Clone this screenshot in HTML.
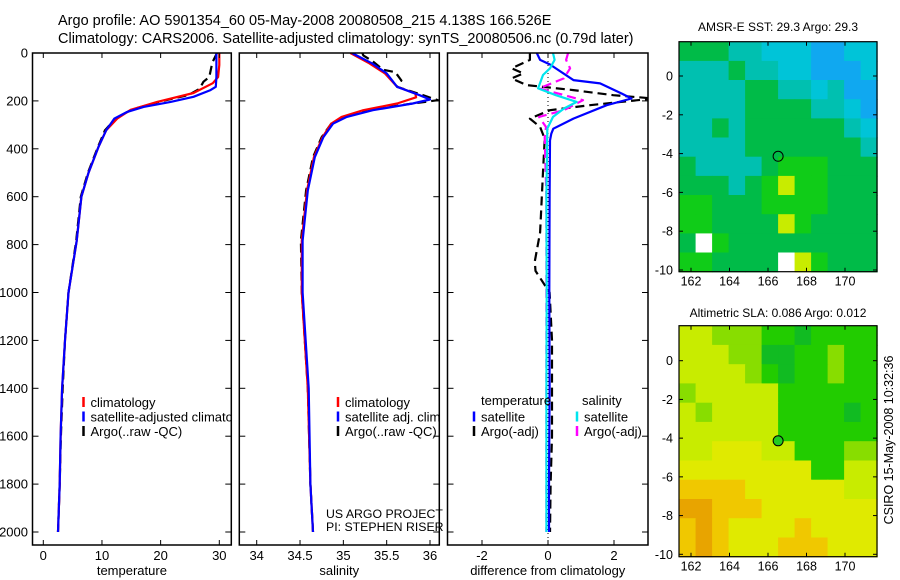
<!DOCTYPE html>
<html><head><meta charset="utf-8"><style>
html,body{margin:0;padding:0;background:#fff;}
svg{display:block;font-family:"Liberation Sans",sans-serif;}
</style></head><body>
<svg id="fig" width="900" height="580" viewBox="0 0 900 580">
<rect width="900" height="580" fill="#fff"/>
<text x="58" y="25" font-size="14.5">Argo profile: AO 5901354_60 05-May-2008 20080508_215 4.138S 166.526E</text>
<text x="58" y="43" font-size="14.5">Climatology: CARS2006. Satellite-adjusted climatology: synTS_20080506.nc (0.79d later)</text>
<g id="layer"></g>
</svg>
<script>
// ---------- data ----------
const depthTicks=[0,200,400,600,800,1000,1200,1400,1600,1800,2000];
const tempTicks=[0,10,20,30];
const salTicks=[34,34.5,35,35.5,36];
const salTickLabels=["34","34.5","35","35.5","36"];
const diffTicks=[-2,0,2];

const tClimD=[0,50,100,126,167,204,237,274,323,393,500,600,784,1000,1200,1400,1600,1800,2000];
const tClimV=[30.0,30.0,29.8,28.9,25.6,19.4,14.9,12.6,10.7,9.4,7.7,6.5,5.7,4.3,3.7,3.2,2.95,2.8,2.5];
const tSatD=[0,50,100,141,155,183,204,225,246,274,323,393,500,600,784,1000,1200,1400,1600,1800,2000];
const tSatV=[29.5,29.5,29.5,29.4,28.5,25.6,21.7,17.1,14.3,12.1,10.7,9.4,7.7,6.5,5.7,4.3,3.7,3.2,2.95,2.8,2.5];
const tArgoD=[0,40,100,120,150,175,204,237,274,323,393,500,600,784,1000,1200,1400,1600,1800,2000];
const tArgoV=[29.6,28.8,28.3,27.3,26.6,24.8,19.6,15.0,12.3,10.5,9.3,7.6,6.4,5.6,4.3,3.7,3.3,3.0,2.8,2.5];

const sClimD=[0,43,85,141,169,185,211,239,267,295,351,435,574,784,1000,1400,1800,2000];
const sClimV=[35.08,35.30,35.48,35.62,35.83,35.84,35.62,35.23,34.98,34.86,34.76,34.66,34.58,34.52,34.52,34.59,34.62,34.65];
const sSatD=[0,43,85,141,176,194,211,239,267,295,351,435,574,784,1000,1400,1800,2000];
const sSatV=[35.10,35.33,35.50,35.62,35.88,36.00,35.80,35.34,35.04,34.88,34.77,34.67,34.59,34.53,34.53,34.60,34.62,34.65];
const sArgoD=[0,10,35,70,80,115,141,176,197,211,239,267,295,351,435,574,784,1000,1400,1800,2000];
const sArgoV=[35.22,35.23,35.34,35.46,35.60,35.67,35.62,35.92,36.09,35.80,35.26,35.00,34.86,34.75,34.65,34.57,34.51,34.52,34.59,34.62,34.65];

const dTSatD=[0,29,48,113,127,169,190,218,274,316,337,365,600,1000,1400,1800,2000];
const dTSatV=[-0.34,-0.24,0.06,0.77,1.58,2.23,2.53,1.78,0.77,0.16,0.10,0.06,0.05,0.04,0.05,0.03,0.03];
const dSSatD=[0,29,64,92,148,176,204,232,267,316,600,1000,1400,1800,2000];
const dSSatV=[0.15,0.20,0.06,-0.15,-0.30,0.24,0.87,0.48,0.15,-0.02,-0.05,-0.04,-0.05,-0.05,-0.05];
const dSArgoD=[0,29,64,106,148,197,239,267,309,351,600,1000,1400,1800,2000];
const dSArgoV=[0.61,0.55,0.67,0.48,-0.27,1.06,0.48,-0.27,-0.06,-0.10,-0.05,-0.05,-0.05,-0.05,-0.05];
const dTArgoD=[0,29,64,85,106,134,155,176,190,218,239,274,309,358,497,637,749,870,910,1000,1200,1600,1800,2000];
const dTArgoV=[-0.55,-0.55,-1.10,-0.75,-1.10,-0.65,0.77,1.98,3.2,1.27,0.06,-0.55,-0.24,-0.10,-0.15,-0.20,-0.24,-0.40,-0.38,0.05,0.12,0.12,0.08,0.06];

const lonTicks=[162,164,166,168,170];
const latTicks=[0,-2,-4,-6,-8,-10];
const sstPalette={B:"#10a8f0",b:"#00c4d8",c:"#00c0b0",g:"#00bb48",G:"#10cc18",y:"#c8ec00",W:"#ffffff"};
const sstGrid=[
"gggccbbbBBbb",
"cccgccbbBBBb",
"ccccggccbcBB",
"ccccggggccbB",
"ccgcggggggcb",
"ccccgggggggc",
"gccccgGGGggg",
"gggcgGyGGggg",
"GGgggGGGGggg",
"GGggggyGgggg",
"gWGggggggggg",
"GGggggWyGggg"];
const slaPalette={y:"#c8ec00",l:"#88dd00",g:"#22cc00",G:"#11bb22",Y:"#e0ea00",o:"#f0c800",O:"#e8a400"};
const slaGrid=[
"yylllggGgggg",
"yyyllGGgglgg",
"yyyylgGgglgg",
"lyyyyygggggg",
"ylyyyyggggGg",
"yyyyyygggggg",
"yyYYYyygggll",
"YYYYYYYYggyy",
"ooooYYYYYYyy",
"OOoooYYYYYYY",
"oOoYYYYoYYYY",
"oOoYYYoooYYY"];
const argoLon=166.526, argoLat=-4.138;

// ---------- helpers ----------
const NS="http://www.w3.org/2000/svg";
const layer=document.getElementById('layer');
function el(tag,attrs,parent){const e=document.createElementNS(NS,tag);for(const k in attrs)e.setAttribute(k,attrs[k]);(parent||layer).appendChild(e);return e;}
function lin(d0,d1,r0,r1){return v=>r0+(v-d0)*(r1-r0)/(d1-d0);}
const yD=lin(0,2000,53,532);
const PT=53,PB=545;

function panel(name,x0,x1,xs,ticks,labels,axisLabel){
  const g=el('g',{});
  
  
  const clip=el('clipPath',{id:'clip-'+name},g);
  el('rect',{x:x0,y:PT,width:x1-x0,height:PB-PT},clip);
  const plot=el('g',{'clip-path':'url(#clip-'+name+')'},g);
  el('rect',{x:x0,y:PT,width:x1-x0,height:PB-PT,fill:'none',stroke:'#000','stroke-width':1.5},g);
  ticks.forEach((t,i)=>{const x=xs(t);
    el('line',{x1:x,x2:x,y1:PT,y2:PT+5,stroke:'#000'},g);
    el('line',{x1:x,x2:x,y1:PB,y2:PB-5,stroke:'#000'},g);
    const tl=el('text',{x:x,y:560,'font-size':13,'text-anchor':'middle'},g);tl.textContent=labels[i];
    
    
  });
  depthTicks.forEach(d=>{const y=yD(d);
    el('line',{x1:x0,x2:x0+6,y1:y,y2:y,stroke:'#000'},g);
    el('line',{x1:x1,x2:x1-6,y1:y,y2:y,stroke:'#000'},g);
  });
  const al=el('text',{x:(x0+x1)/2,y:575,'font-size':13,'text-anchor':'middle'},g);al.textContent=axisLabel;
  
  
  return plot;
}
function line(plot,D,V,xs,color,dashed,name,w){
  const d=D.map((dd,i)=>(i?'L':'M')+xs(V[i]).toFixed(1)+','+yD(dd).toFixed(1)).join('');
  const p=el('path',{d:d,fill:'none',stroke:color,'stroke-width':w||2.2,'stroke-dasharray':dashed?'9,5':'none','stroke-linejoin':'round'},plot);
  
  
}
function legend(parent,x,y,color,text,name){
  const g=el('g',{},parent);
  
  
  el('line',{x1:x,x2:x,y1:y-10,y2:y,stroke:color,'stroke-width':2.5},g);
  const t=el('text',{x:x+7,y:y,'font-size':13},g);t.textContent=text;
}

// depth labels
depthTicks.forEach(d=>{const t=el('text',{x:28,y:yD(d)+4.5,'font-size':13,'text-anchor':'end'});t.textContent=d;
  
  });

// panel 1 temperature
const xT=lin(0,30,43.3,219.3);
const p1=panel('temperature-panel',32.5,231.3,xT,tempTicks,tempTicks.map(String),'temperature');
line(p1,tArgoD,tArgoV,xT,'#000',true,'temp-argo-line');
line(p1,tClimD,tClimV,xT,'#f00',false,'temp-climatology-line');
line(p1,tSatD,tSatV,xT,'#0000ff',false,'temp-satellite-line');
legend(p1,83.5,407,'#f00','climatology','legend-climatology');
legend(p1,83.5,421.5,'#0000ff','satellite-adjusted climatology','legend-satellite');
legend(p1,83.5,436,'#000','Argo(..raw -QC)','legend-argo');

// panel 2 salinity
const xS=lin(34,36,256.7,430);
const p2=panel('salinity-panel',239.3,439.3,xS,salTicks,salTickLabels,'salinity');
line(p2,sArgoD,sArgoV,xS,'#000',true,'sal-argo-line');
line(p2,sClimD,sClimV,xS,'#f00',false,'sal-climatology-line');
line(p2,sSatD,sSatV,xS,'#0000ff',false,'sal-satellite-line');
legend(p2,338,407,'#f00','climatology','legend2-climatology');
legend(p2,338,421.5,'#0000ff','satellite adj. clim.','legend2-satellite');
legend(p2,338,436,'#000','Argo(..raw -QC)','legend2-argo');
const c1=el('text',{x:326,y:518,'font-size':12.3});c1.textContent='US ARGO PROJECT';

const c2=el('text',{x:326,y:531,'font-size':12.3});c2.textContent='PI: STEPHEN RISER';


// panel 3 diff
const xDf=lin(-2,2,482,614);
const p3=panel('difference-panel',447.5,648,xDf,diffTicks,diffTicks.map(String),'difference from climatology');
el('line',{x1:xDf(0),x2:xDf(0),y1:PT,y2:PB,stroke:'#000','stroke-dasharray':'1,3','stroke-width':1},p3);
line(p3,dTArgoD,dTArgoV,xDf,'#000',true,'diff-temp-argo-line');
line(p3,dSArgoD,dSArgoV,xDf,'#ff00ff',true,'diff-sal-argo-line');
line(p3,dTSatD,dTSatV,xDf,'#0000ff',false,'diff-temp-satellite-line');
line(p3,dSSatD,dSSatV,xDf,'#00e5ee',false,'diff-sal-satellite-line');
const lt=el('text',{x:481,y:405,'font-size':13},p3);lt.textContent='temperature';

const ls=el('text',{x:582,y:405,'font-size':13},p3);ls.textContent='salinity';

legend(p3,474,421.5,'#0000ff','satellite','legend3-temp-satellite');
legend(p3,474,436,'#000','Argo(-adj)','legend3-temp-argo');
legend(p3,577,421.5,'#00e5ee','satellite','legend3-sal-satellite');
legend(p3,577,436,'#ff00ff','Argo(-adj)','legend3-sal-argo');

// maps
function map(name,top,bottom,lat0y,lat10y,grid,pal,title,titleY,filled,fillColor){
  const L=679,R=877;
  const xL=lin(162,170,691,845);
  const yL=lin(0,-10,lat0y,lat10y);
  const lonMin=161.38,lonMax=171.67;
  const latTop=(top-lat0y)/(lat10y-lat0y)*-10, latBot=(bottom-lat0y)/(lat10y-lat0y)*-10;
  const g=el('g',{});
  
  
  const rows=grid.length,cols=grid[0].length;
  for(let r=0;r<rows;r++)for(let c=0;c<cols;c++){
    const lo0=lonMin+(lonMax-lonMin)*c/cols,lo1=lonMin+(lonMax-lonMin)*(c+1)/cols;
    const la0=latTop+(latBot-latTop)*r/rows,la1=latTop+(latBot-latTop)*(r+1)/rows;
    const x=xL(lo0),y=yL(la0);
    const cell=el('rect',{x:x.toFixed(1),y:y.toFixed(1),width:(xL(lo1)-x+0.6).toFixed(1),height:(yL(la1)-y+0.6).toFixed(1),fill:pal[grid[r][c]]||'#0b4'},g);
    
    
  }
  el('rect',{x:L,y:top,width:R-L,height:bottom-top,fill:'none',stroke:'#000','stroke-width':1.2},g);
  lonTicks.forEach(v=>{const x=xL(v);
    el('line',{x1:x,x2:x,y1:top,y2:top+4,stroke:'#000'},g);
    el('line',{x1:x,x2:x,y1:bottom,y2:bottom-4,stroke:'#000'},g);
    const t=el('text',{x:x,y:bottom+14,'font-size':12.5,'text-anchor':'middle'},g);t.textContent=v;});
  latTicks.forEach(v=>{const y=yL(v);
    el('line',{x1:L,x2:L+4,y1:y,y2:y,stroke:'#000'},g);
    el('line',{x1:R,x2:R-4,y1:y,y2:y,stroke:'#000'},g);
    const t=el('text',{x:673,y:y+4.5,'font-size':12.5,'text-anchor':'end'},g);t.textContent=v;});
  const mk=el('circle',{cx:xL(argoLon),cy:yL(argoLat),r:5,fill:filled?fillColor:'none',stroke:'#000','stroke-width':1},g);
  
  
  const tt=el('text',{x:778,y:titleY,'font-size':12,'text-anchor':'middle'},g);tt.textContent=title;
  
  
}
map('sst-map',41.7,271.7,76,270,sstGrid,sstPalette,'AMSR-E SST: 29.3 Argo: 29.3',31,false);
map('sla-map',325.7,556.7,360.7,554.3,slaGrid,slaPalette,'Altimetric SLA: 0.086 Argo: 0.012',317,true,'#22cc22');
const cs=el('text',{x:0,y:0,'font-size':12.5,'text-anchor':'middle',transform:'translate(893,440) rotate(-90)'});
cs.textContent='CSIRO 15-May-2008 10:32:36';


</script>
</body></html>
